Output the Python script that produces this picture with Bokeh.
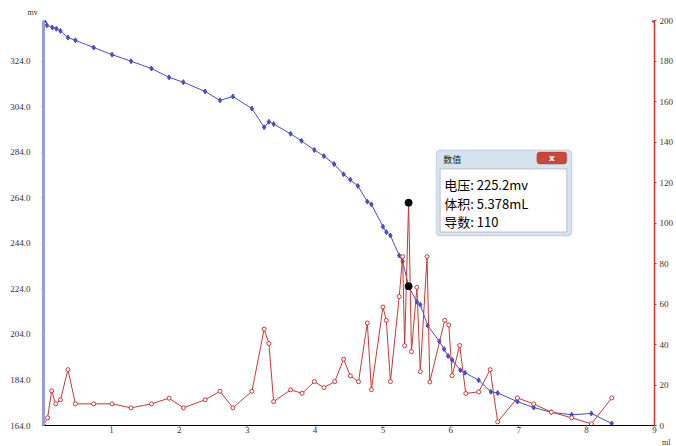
from bokeh.plotting import figure
from bokeh.models import (Range1d, LinearAxis, FixedTicker, Label, BoxAnnotation,
                          NumeralTickFormatter, Title)
from bokeh.embed import file_html
from bokeh.resources import INLINE

# ---- data ----
vol_emf = [0.05, 0.13, 0.19, 0.25, 0.36, 0.47, 0.74, 1.01, 1.29, 1.59, 1.85, 2.06, 2.38,
           2.60, 2.79, 3.07, 3.25, 3.32, 3.39, 3.64, 3.80, 3.99, 4.13, 4.28, 4.42, 4.52,
           4.63, 4.77, 4.83, 5.00, 5.05, 5.11, 5.24, 5.29, 5.378, 5.50, 5.55, 5.66, 5.83,
           5.90, 5.96, 6.02, 6.14, 6.21, 6.41, 6.59, 6.69, 6.98, 7.22, 7.48, 7.78, 8.07, 8.37]
emf = [339.9, 338.9, 338.4, 337.4, 334.5, 333.3, 330.1, 327.0, 324.1, 320.9, 317.0, 314.9,
       310.8, 306.9, 308.6, 303.3, 295.1, 297.5, 296.5, 292.2, 289.1, 285.1, 282.4, 278.9,
       274.4, 272.0, 269.3, 262.4, 261.2, 251.4, 249.0, 247.5, 238.7, 236.1, 225.2, 218.4,
       217.1, 207.9, 201.0, 197.6, 194.5, 192.8, 188.3, 187.2, 183.9, 178.8, 178.3, 174.5,
       171.9, 169.8, 168.7, 169.3, 164.9]

vol_der = [0.0, 0.06, 0.12, 0.18, 0.25, 0.36, 0.47, 0.74, 1.01, 1.29, 1.59, 1.85, 2.06, 2.38,
           2.60, 2.79, 3.07, 3.25, 3.32, 3.39, 3.64, 3.81, 3.99, 4.13, 4.29, 4.42, 4.52, 4.64,
           4.77, 4.83, 5.00, 5.05, 5.11, 5.24, 5.29, 5.32, 5.378, 5.42, 5.50, 5.55, 5.65, 5.69,
           5.91, 5.97, 6.02, 6.13, 6.22, 6.41, 6.58, 6.69, 6.98, 7.22, 7.48, 7.78, 8.07, 8.37]
deriv = [0, 3.8, 17.1, 10.7, 12.7, 27.6, 10.7, 10.7, 10.7, 8.7, 10.7, 13.5, 8.7, 12.7, 16.9,
         8.7, 16.9, 47.6, 40.5, 11.8, 17.6, 15.9, 21.7, 18.7, 21.7, 32.7, 24.5, 21.6, 50.6,
         17.7, 58.5, 51.9, 21.7, 63.7, 83.4, 39.4, 110, 36.5, 68.3, 26.6, 83.4, 21.5, 51.9,
         49.6, 24.6, 39.5, 15.8, 16.6, 27.6, 1.8, 13.6, 10.7, 6.6, 3.8, 0.8, 13.6]

sel_vol = [5.378]
sel_emf = [225.2]
sel_der = [110]

x_ticks = [1, 2, 3, 4, 5, 6, 7, 8, 9]
mv_ticks = [164, 184, 204, 224, 244, 264, 284, 304, 324]
der_ticks = [0, 20, 40, 60, 80, 100, 120, 140, 160, 180, 200]

tip_lines = ["电压: 225.2mv", "体积: 5.378mL", "导数: 110"]

BLUE = "#4a4ac4"
RED = "#c03a3a"
FONT = "Liberation Serif"

p = figure(width=676, height=446, output_backend="svg", toolbar_location=None,
           x_range=Range1d(0, 9), y_range=Range1d(164, 342),
           min_border_left=43, min_border_top=20, min_border_right=20, min_border_bottom=20)
p.outline_line_color = None
p.xgrid.grid_line_color = None
p.ygrid.grid_line_color = None
p.background_fill_color = "white"

p.extra_y_ranges = {"d": Range1d(0, 200)}

# unit titles
p.add_layout(Title(text="mv", align="left", offset=-16, standoff=8, text_font=FONT,
                   text_font_size="8px", text_font_style="normal", text_color="#333333"),
             "above")
p.add_layout(Title(text="ml", align="right", offset=-16, standoff=0, text_font=FONT,
                   text_font_size="8px", text_font_style="normal", text_color="#333333"),
             "below")

# axes
xa = p.xaxis[0]
xa.ticker = FixedTicker(ticks=x_ticks)
xa.axis_line_color = "black"
xa.major_tick_line_color = "#333333"
xa.major_tick_out = 1
xa.major_tick_in = 0
xa.minor_tick_line_color = None
xa.major_label_standoff = 0
xa.major_label_text_font = FONT
xa.major_label_text_font_size = "9px"
xa.major_label_text_color = "#333333"

ya = p.yaxis[0]
ya.ticker = FixedTicker(ticks=mv_ticks)
ya.formatter = NumeralTickFormatter(format="0.0")
ya.axis_line_color = "#9c9cd4"
ya.axis_line_width = 3
ya.major_tick_line_color = "#9c9cd4"
ya.major_tick_out = 2
ya.major_tick_in = 0
ya.minor_tick_line_color = None
ya.major_label_standoff = 11
ya.major_label_text_font = FONT
ya.major_label_text_font_size = "9px"
ya.major_label_text_color = "#333333"

ra = LinearAxis(y_range_name="d", ticker=FixedTicker(ticks=der_ticks))
ra.axis_line_color = "#cc3333"
ra.axis_line_width = 1.5
ra.major_tick_line_color = "#cc3333"
ra.major_tick_out = 2
ra.major_tick_in = 0
ra.minor_tick_line_color = None
ra.major_label_standoff = 3
ra.major_label_text_font = FONT
ra.major_label_text_font_size = "9px"
ra.major_label_text_color = "#333333"
p.add_layout(ra, "right")

# curves
p.line(vol_emf, emf, line_color=BLUE, line_width=1)
p.scatter(vol_emf, emf, marker="diamond", size=5, fill_color=BLUE, line_color=BLUE)

p.line(vol_der, deriv, line_color=RED, line_width=1, y_range_name="d")
p.scatter(vol_der, deriv, marker="circle", size=4, fill_color="white", line_color=RED,
          y_range_name="d")

# selected point markers
p.scatter(sel_vol, sel_emf, size=7, fill_color="black", line_color="black")
p.scatter(sel_vol, sel_der, size=7, fill_color="black", line_color="black", y_range_name="d")

# axis end arrows
p.scatter([0], [342], marker="triangle", size=6, fill_color="#2020b0", line_color="#2020b0")
p.scatter([9], [200], marker="triangle", size=5, fill_color="#cc2222", line_color="#cc2222",
          y_range_name="d")

# ---- value window (pixel layout -> data coords) ----
def dx(px):
    return (px - 43) / 68.11


def dy(py):
    return 164 + (426 - py) / 2.28


p.add_layout(BoxAnnotation(left=dx(437), right=dx(573), top=dy(150), bottom=dy(236),
                           fill_color="#d6e2ef", fill_alpha=1, line_color="#7d8ea4",
                           line_width=1, border_radius=4))
p.add_layout(BoxAnnotation(left=dx(538), right=dx(568), top=dy(152), bottom=dy(164),
                           fill_color="#c9483c", fill_alpha=1, line_color="#8c2d24",
                           line_width=1, border_radius=3))
p.add_layout(Label(x=dx(553), y=dy(158), text="x", text_font="DejaVu Sans",
                   text_font_size="9px", text_font_style="bold", text_color="white",
                   text_align="center", text_baseline="middle"))
p.add_layout(Label(x=dx(444), y=dy(159), text="数值", text_font="Noto Sans CJK SC",
                   text_font_size="9px", text_color="#222222", text_align="left",
                   text_baseline="middle"))
p.add_layout(BoxAnnotation(left=dx(441), right=dx(568), top=dy(169), bottom=dy(232),
                           fill_color="white", fill_alpha=1, line_color="#5a5a5a",
                           line_width=1))
for txt, py in zip(tip_lines, [184, 204, 222]):
    p.add_layout(Label(x=dx(445), y=dy(py), text=txt, text_font="Noto Sans CJK SC",
                       text_font_size="13px", text_color="black", text_align="left",
                       text_baseline="middle"))

open("out.html", "w").write(file_html(p, INLINE))
